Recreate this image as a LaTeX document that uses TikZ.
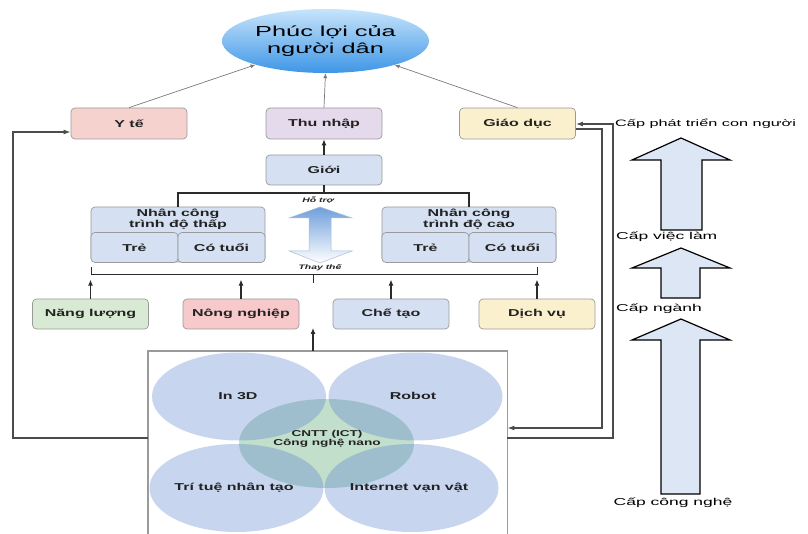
\documentclass[tikz,border=0pt]{standalone}
\usepackage{fontspec}
\setmainfont{Liberation Sans}[FakeStretch=1.6]
\newfontfamily\widefont{Liberation Sans}[FakeStretch=1.75]
\usetikzlibrary{shapes.geometric,arrows.meta}
\definecolor{bgray}{HTML}{9A9A9A}
\definecolor{pinkf}{HTML}{F6D2CF}
\definecolor{pinkg}{HTML}{F7C9CB}
\definecolor{lavf}{HTML}{E4DAEB}
\definecolor{yelf}{HTML}{FAF0CD}
\definecolor{bluef}{HTML}{D5E1F3}
\definecolor{greenf}{HTML}{D9EAD4}
\definecolor{lineblk}{HTML}{2B2B2B}
\definecolor{thingray}{HTML}{7A7A7A}
\definecolor{circb}{HTML}{C7D6EE}
\definecolor{circg}{HTML}{C2DFCB}
\definecolor{circt}{HTML}{9EBECE}
\definecolor{arrf}{HTML}{DCE6F5}
\definecolor{titletop}{HTML}{C8E4FB}
\definecolor{titlemid}{HTML}{88C3F3}
\definecolor{titlebot}{HTML}{3D96E6}
\definecolor{dblarrtop}{HTML}{6F9FDC}
\definecolor{dblarrline}{HTML}{A9BCD6}
\definecolor{txt}{HTML}{222222}
\begin{document}
\begin{tikzpicture}[x=1pt,y=-1pt,
  box/.style={draw=bgray, rounded corners=4pt, line width=0.7pt, minimum width=116pt, minimum height=31pt, inner sep=0pt, text=txt, font=\bfseries\fontsize{10}{11}\selectfont},
  thinarr/.style={draw=thingray, line width=0.7pt, -{Latex[length=5pt,width=4pt]}},
  blkarr/.style={draw=lineblk, line width=1.1pt, -{Latex[length=6pt,width=5pt]}},
  blk/.style={draw=lineblk, line width=1.1pt},
  fb/.style={draw=lineblk!85, line width=1.4pt},
  fbarr/.style={fb, -{Latex[length=7pt,width=5pt]}},
  lbl/.style={font=\bfseries\fontsize{10}{11}\selectfont, inner sep=0pt, text=txt},
  lvl/.style={font=\widefont\fontsize{10}{11}\selectfont, inner sep=0pt, text=black},
  ell/.style={ellipse, minimum width=174pt, minimum height=88pt, inner sep=0pt},
  bigarrow/.style={draw=black, line width=1.2pt, fill=arrf, line join=miter}
]
\useasboundingbox (0,0) rectangle (808,534);

% title ellipse
\node[ellipse, minimum width=207pt, minimum height=64pt, inner sep=0pt,
  top color=titletop, middle color=titlemid, bottom color=titlebot,
  align=center, text=black, font=\widefont\fontsize{14.5}{17}\selectfont] (title) at (325.5,41) {Phúc lợi của\\người dân};

% top boxes
\node[box, fill=pinkf] (yte) at (129,123.5) {Y tế};
\node[box, fill=lavf] (thunhap) at (324,123.5) {Thu nhập};
\node[box, fill=yelf] (giaoduc) at (517.5,123.5) {Giáo dục};
\node[box, fill=bluef, minimum height=30pt] (gioi) at (324,170) {Giới};

\draw[thinarr] (yte.north) -- (title);
\draw[thinarr] (thunhap.north) -- (title.south);
\draw[thinarr] (giaoduc.north) -- (title);
\draw[blkarr] (gioi.north) -- (thunhap.south);

% worker groups
\node[box, fill=bluef, minimum width=174pt, minimum height=55pt] (lowg) at (178,234.5) {};
\node[box, fill=bluef, minimum width=87pt, minimum height=30pt] (lowy) at (134.5,247.5) {Trẻ};
\node[box, fill=bluef, minimum width=87pt, minimum height=30pt] (lowo) at (221.5,247.5) {Có tuổi};
\node[lbl, align=center] (lowt) at (178,219.5) {Nhân công\\trình độ thấp};

\node[box, fill=bluef, minimum width=174pt, minimum height=55pt] (highg) at (469,234.5) {};
\node[box, fill=bluef, minimum width=87pt, minimum height=30pt] (highy) at (425.5,247.5) {Trẻ};
\node[box, fill=bluef, minimum width=87pt, minimum height=30pt] (higho) at (512.5,247.5) {Có tuổi};
\node[lbl, align=center] (hight) at (469,219.5) {Nhân công\\trình độ cao};

\draw[blk] (gioi.south) -- (324,193) -| (lowg.north);
\draw[blk] (324,193) -| (highg.north);

% double arrow
\path[top color=dblarrtop, bottom color=white, draw=dblarrline, line width=0.5pt]
  (320,207) -- (352,218) -- (331,218) -- (331,251) -- (352,251) -- (320,263)
  -- (289,251) -- (309,251) -- (309,218) -- (289,218) -- cycle;
\node[font=\bfseries\itshape\fontsize{6.5}{8}\selectfont, inner sep=0pt, text=txt] (hotro) at (318,200) {Hỗ trợ};
\node[font=\bfseries\itshape\fontsize{6.5}{8}\selectfont, inner sep=0pt, text=txt] (thaythe) at (320,268) {Thay thế};

% bracket
\draw[blk, line width=1pt] (91,267) -- (91,275) -- (537,275) -- (537,267);
\draw[blk, line width=1pt] (313,275) -- (313,283);

% sector boxes
\node[box, fill=greenf, minimum height=30pt] (nl) at (90.5,314) {Năng lượng};
\node[box, fill=pinkg, minimum height=30pt] (nn) at (241,314) {Nông nghiệp};
\node[box, fill=bluef, minimum height=30pt] (ct) at (391,314) {Chế tạo};
\node[box, fill=yelf, minimum height=30pt] (dv) at (537,314) {Dịch vụ};
\draw[blkarr] (nl.north) -- ++(0,-19);
\draw[blkarr] (nn.north) -- ++(0,-19);
\draw[blkarr] (ct.north) -- ++(0,-19);
\draw[blkarr] (dv.north) -- ++(0,-19);

% technology box
\node[draw=bgray, line width=0.8pt, fill=white, minimum width=359pt, minimum height=220pt, inner sep=0pt] (tech) at (327.5,461) {};
\node[ell, fill=circb] (e1) at (239,396.5) {};
\node[ell, fill=circb] (e2) at (415.5,396.5) {};
\node[ell, fill=circb] (e3) at (236.5,488) {};
\node[ell, fill=circb] (e4) at (411.5,488) {};
\node[ell, fill=circg, minimum width=175pt, minimum height=89pt] (ec) at (326.5,443.5) {};
\begin{scope}
  \clip (326.5,443.5) ellipse [x radius=87.5pt, y radius=44.5pt];
  \fill[circt] (239,396.5) ellipse [x radius=87pt, y radius=44pt];
  \fill[circt] (415.5,396.5) ellipse [x radius=87pt, y radius=44pt];
  \fill[circt] (236.5,488) ellipse [x radius=87pt, y radius=44pt];
  \fill[circt] (411.5,488) ellipse [x radius=87pt, y radius=44pt];
\end{scope}
\draw[draw=bgray, line width=0.8pt] (tech.south west) rectangle (tech.north east);
\node[lbl] (t1) at (238,396) {In 3D};
\node[lbl] (t2) at (413,396) {Robot};
\node[lbl] (t3) at (234,488) {Trí tuệ nhân tạo};
\node[lbl] (t4) at (409,488) {Internet vạn vật};
\node[font=\bfseries\fontsize{8.5}{9}\selectfont, align=center, inner sep=0pt, text=txt] (tc) at (327,438.5) {CNTT (ICT)\\Công nghệ nano};

\draw[blkarr] (tech.north -| 313,0) -- (313,328);

% feedback lines
\draw[fbarr] (tech.west |- 0,438) -| (13,132) -- (yte.west |- 0,132);
\draw[fbarr] (tech.east |- 0,438) -| (613,124) -- (giaoduc.east |- 0,124);
\draw[fbarr] (giaoduc.east |- 0,129) -| (602,428) -- (tech.east |- 0,428);

% level arrows
\draw[bigarrow] (681,138) -- (730,160) -- (702,160) -- (702,230) -- (661,230) -- (661,160) -- (632,160) -- cycle;
\draw[bigarrow] (681,248) -- (730,268) -- (700,268) -- (700,298) -- (661,298) -- (661,268) -- (632,268) -- cycle;
\draw[bigarrow] (681,319) -- (730,340) -- (700,340) -- (700,494) -- (661,494) -- (661,340) -- (632,340) -- cycle;
\node[lvl, anchor=west, font=\widefont\fontsize{9.3}{11}\selectfont] (lv1) at (615,124) {Cấp phát triển con người};
\node[lvl, anchor=west] (lv2) at (616,237) {Cấp việc làm};
\node[lvl, anchor=west] (lv3) at (616,309) {Cấp ngành};
\node[lvl] (lv4) at (673,503) {Cấp công nghệ};
\end{tikzpicture}
\end{document}
